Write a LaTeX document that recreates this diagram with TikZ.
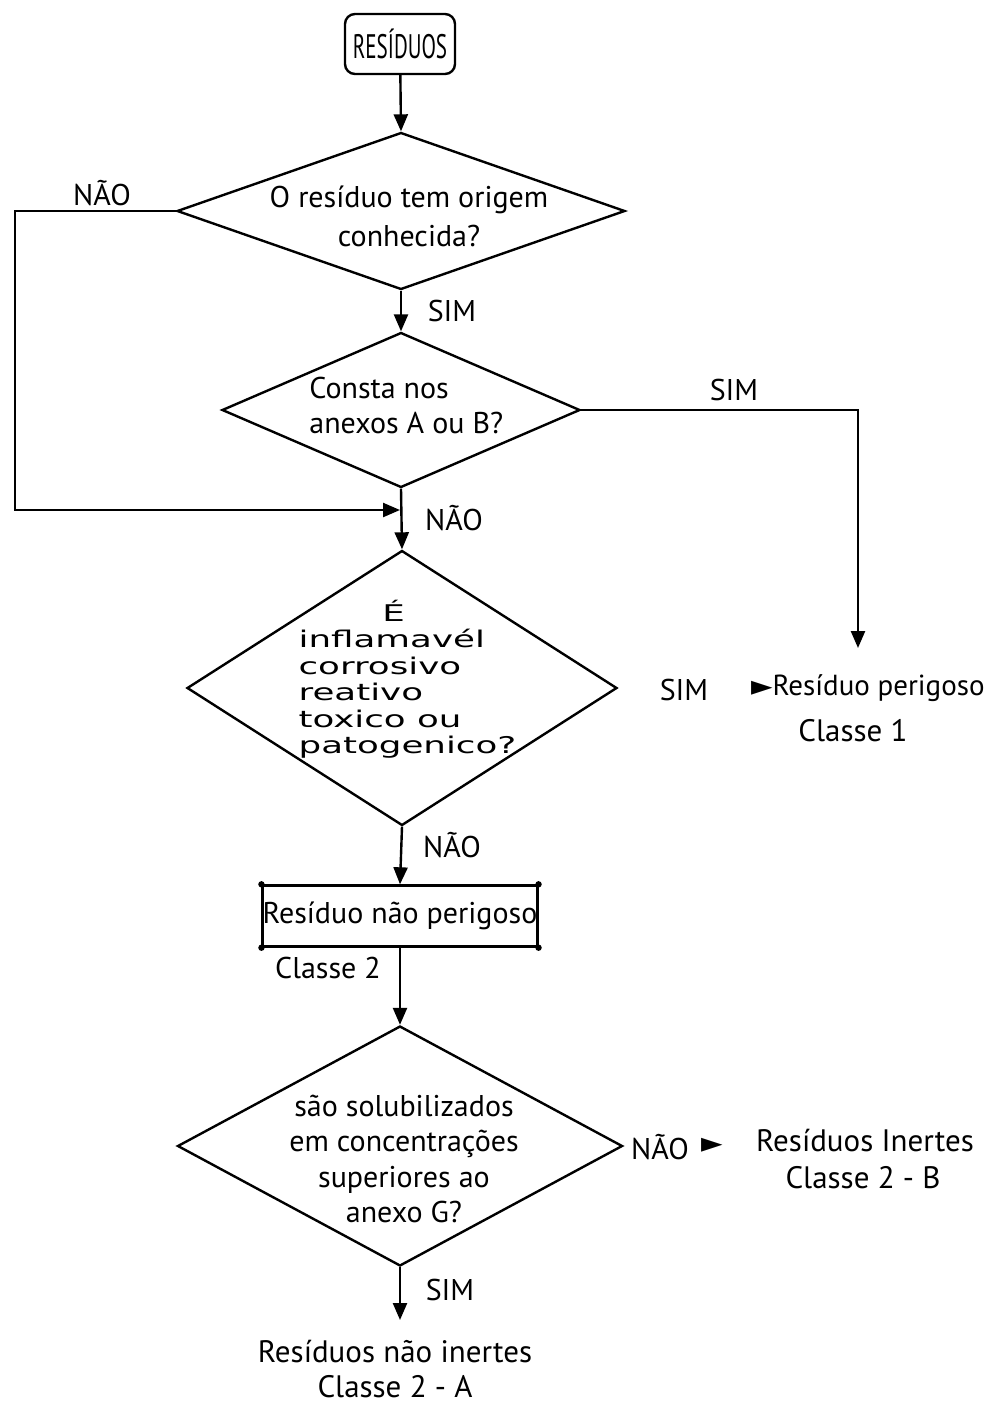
\documentclass[tikz,border=0pt]{standalone}
\usepackage{fontspec}
\setmainfont{PT Sans}
\newfontfamily\dejavu{DejaVu Sans}
\usetikzlibrary{shapes.geometric,arrows.meta,positioning}

\tikzset{
    dec/.style={diamond, draw, line width=1.2pt, inner sep=0pt},
    flow/.style={line width=1.2pt, -{Triangle[length=8.5pt,width=7pt]}},
    lbl/.style={font=\fontsize{15}{16}\selectfont, inner sep=0pt},
    res/.style={font=\fontsize{15.5}{16}\selectfont, inner sep=0pt},
    dectext/.style={font=\fontsize{15}{19.5}\selectfont, inner sep=0pt},
}

\begin{document}
\begin{tikzpicture}[x=0.5pt,y=-0.5pt]
    \useasboundingbox (0,0) rectangle (992,1405);

    % Start box.
    \node[draw, line width=1.2pt, rounded corners=5pt, minimum width=55pt,
        minimum height=30pt, inner sep=0pt, font=\fontsize{17}{17}\selectfont]
        (res) at (400,44) {\scalebox{0.62}[1]{RESÍDUOS}};

    % Decisions.
    \node[dec, minimum width=224pt, minimum height=78.5pt] (d1) at (401,211) {};
    \node[dectext, align=center] (d1txt) at (409,216) {O resíduo tem origem\\conhecida?};

    \node[dec, minimum width=179pt, minimum height=77.5pt] (d2) at (401,410) {};
    \node[dectext, align=left, anchor=west, font=\fontsize{15}{17.5}\selectfont]
        (d2txt) at (309,405) {Consta nos\\anexos A ou B?};

    \node[dec, minimum width=215pt, minimum height=137.5pt] (d3) at (402,688) {};
    \node[inner sep=0pt, anchor=west, align=left, xscale=1.55,
        font=\dejavu\fontsize{11.5}{13.25}\selectfont]
        (d3txt) at (298,679) {\hspace*{27pt}É\\inflamavél\\corrosivo\\reativo\\toxico ou\\patogenico?};

    \node[draw, line width=1.2pt, minimum width=135.5pt, minimum height=30.5pt,
        inner sep=0pt, font=\fontsize{15}{16}\selectfont]
        (box) at (400,916) {Resíduo não perigoso};
    \foreach \c in {north west, north east, south west, south east}
        \fill (box.\c) circle (1.6pt);
    \node[lbl] (box2) at (328,968) {Classe 2};

    \node[dec, minimum width=222.5pt, minimum height=120pt] (d4) at (400,1146) {};
    \node[dectext, align=center, font=\fontsize{15}{17.75}\selectfont]
        (d4txt) at (404,1159) {são solubilizados\\em concentrações\\superiores ao\\anexo G?};

    % Results.
    \node[res, anchor=east, font=\fontsize{14.5}{16}\selectfont] (r1) at (985,688)
        {{\dejavu\fontsize{14}{14}\selectfont ►}Resíduo perigoso};
    \node[res] (r1b) at (853,731) {Classe 1};
    \node[res] (r2) at (865,1141) {Resíduos Inertes};
    \node[res] (r2b) at (863,1178) {Classe 2 - B};
    \node[res] (r3) at (395,1352) {Resíduos não inertes};
    \node[res] (r3b) at (395,1387) {Classe 2 - A};

    % Connectors.
    \coordinate (lft) at (15,211);
    \coordinate (join) at (400,510);
    \coordinate (rgt) at (858,648);
    \coordinate (bot) at (400,1320);

    \draw[flow] (res) -- (d1.north);
    \draw[flow] (d1.south) -- (d2.north);
    \draw[flow] (d1.west) -- (lft) |- (join);
    \draw[flow] (d2.south) -- (d3.north);
    \draw[flow] (d2.east) -| (rgt);
    \draw[flow] (d3.south) -- (box.north);
    \draw[flow] (box.south) -- (d4.north);
    \draw[flow] (d4.south) -- (bot);

    % Answers.
    \node[lbl] (n1) at (102,193) {NÃO};
    \node[lbl] (s1) at (452,311) {SIM};
    \node[lbl] (s2) at (734,390) {SIM};
    \node[lbl] (n2) at (454,518) {NÃO};
    \node[lbl] (s3) at (684,690) {SIM};
    \node[lbl] (n3) at (452,845) {NÃO};
    \node[lbl] (n4) at (660,1147) {NÃO};
    \node[inner sep=0pt, font=\dejavu\fontsize{14}{14}\selectfont] (n4a) at (712,1145) {►};
    \node[lbl] (s4) at (450,1290) {SIM};
\end{tikzpicture}
\end{document}
